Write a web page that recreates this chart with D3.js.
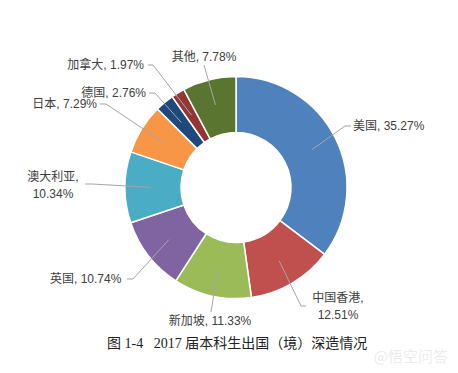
<!DOCTYPE html>
<html lang="zh">
<head>
<meta charset="UTF-8">
<title>2017 届本科生出国（境）深造情况</title>
<script src="https://cdn.jsdelivr.net/npm/d3@7/dist/d3.min.js"></script>
<style>
  html, body { margin: 0; background: #fff; }
  svg { display: block; }
  .lbl { font: 12px "Liberation Sans", "Noto Sans CJK SC", sans-serif; fill: #404040; }
  .cap { font: 14px "Liberation Serif", "Noto Sans CJK SC", serif; fill: #222; }
</style>
</head>
<body>
<script>
  // 数据
  const categories = ['美国', '中国香港', '新加坡', '英国', '澳大利亚', '日本', '德国', '加拿大', '其他']
  const values = [35.27, 12.51, 11.33, 10.74, 10.34, 7.29, 2.76, 1.97, 7.78]
  const colors = ['#4f81bd', '#c0504d', '#9bbb59', '#8064a2', '#4bacc6', '#f79646', '#1f497d', '#943634', '#5a7530']

  const width = 458
  const height = 373
  const cx = 236, cy = 187.5
  const outerR = 111, innerR = 55

  // 标签布局：文字位置、对齐、换行，引线终点
  const labelLayout = [
    { x: 353, y: 126, anchor: 'start', split: false, ex: 345, ey: 126, hx: 351 },
    { x: 338, y: 298, anchor: 'middle', split: true, ex: 301, ey: 306, hx: 306 },
    { x: 210, y: 321, anchor: 'middle', split: false, ex: 211, ey: 312, hx: 211 },
    { x: 50, y: 279, anchor: 'start', split: false, ex: 133, ey: 279, hx: 127 },
    { x: 53, y: 177, anchor: 'middle', split: true, ex: 92, ey: 184, hx: 85 },
    { x: 97, y: 104, anchor: 'end', split: false, ex: 106, ey: 104, hx: 100 },
    { x: 146, y: 93, anchor: 'end', split: false, ex: 155, ey: 93, hx: 149 },
    { x: 144, y: 65, anchor: 'end', split: false, ex: 153, ey: 65, hx: 148 },
    { x: 204, y: 57, anchor: 'middle', split: false, ex: 204, ey: 65, hx: 204 }
  ]

  const svg = d3.select('body').append('svg')
    .attr('width', width)
    .attr('height', height)

  const g = svg.append('g').attr('transform', `translate(${cx},${cy})`)

  const pie = d3.pie().sort(null).value(d => d)
  const arcs = pie(values)

  const arc = d3.arc().innerRadius(innerR).outerRadius(outerR)
  const mid = d3.arc().innerRadius(85).outerRadius(85)

  // 扇区
  g.selectAll('path.slice')
    .data(arcs)
    .enter()
    .append('path')
    .attr('class', 'slice')
    .attr('d', arc)
    .attr('fill', (d, i) => colors[i])
    .attr('stroke', '#fff')
    .attr('stroke-width', 1.5)

  // 引线
  svg.selectAll('polyline.leader')
    .data(arcs)
    .enter()
    .append('polyline')
    .attr('class', 'leader')
    .attr('fill', 'none')
    .attr('stroke', '#a6a6a6')
    .attr('stroke-width', 1)
    .attr('points', (d, i) => {
      const c = mid.centroid(d)
      const L = labelLayout[i]
      return [[cx + c[0], cy + c[1]], [L.ex, L.ey], [L.hx, L.ey]].map(p => p.join(',')).join(' ')
    })

  // 标签
  const fmt = d => d.toFixed(2) + '%'
  arcs.forEach((d, i) => {
    const L = labelLayout[i]
    const t = svg.append('text')
      .attr('class', 'lbl')
      .attr('text-anchor', L.anchor)
      .attr('x', L.x)
      .attr('y', L.y)
      .attr('dy', '0.35em')
    if (L.split) {
      t.append('tspan').attr('x', L.x).text(categories[i] + ',')
      t.append('tspan').attr('x', L.x).attr('dy', 17).text(fmt(values[i]))
    } else {
      t.text(`${categories[i]}, ${fmt(values[i])}`)
    }
  })

  // 图题
  svg.append('text')
    .attr('class', 'cap')
    .attr('x', 107)
    .attr('y', 343)
    .attr('dy', '0.35em')
    .attr('xml:space', 'preserve')
    .style('white-space', 'pre')
    .text('图 1-4   2017 届本科生出国（境）深造情况')

  // 水印
  svg.append('text')
    .attr('x', 448)
    .attr('y', 357)
    .attr('dy', '0.35em')
    .attr('text-anchor', 'end')
    .attr('fill', '#ececec')
    .style('font', '15px "Noto Sans CJK SC", sans-serif')
    .text('@悟空问答')
</script>
</body>
</html>
